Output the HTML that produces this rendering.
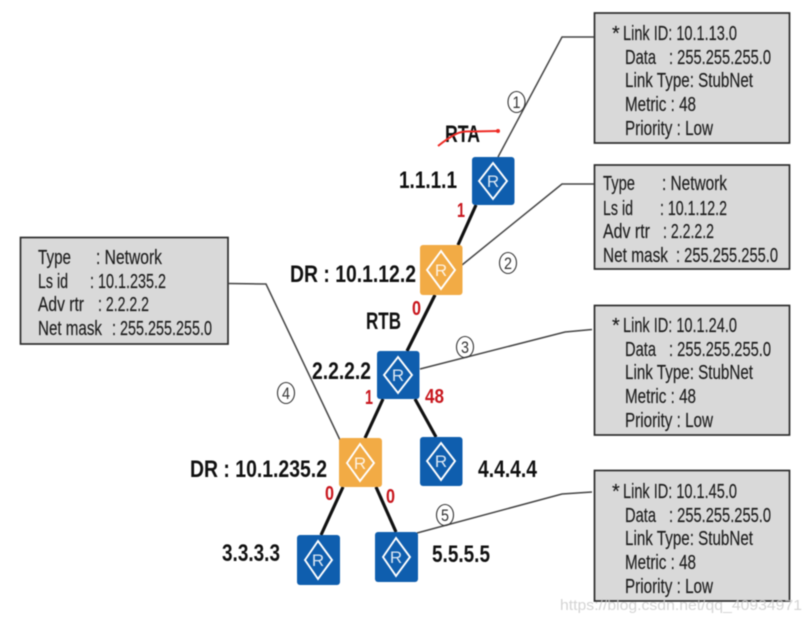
<!DOCTYPE html>
<html><head><meta charset="utf-8"><style>
html,body{margin:0;padding:0;background:#fff;width:810px;height:623px;overflow:hidden}
svg{display:block;filter:blur(.4px)}
text{font-family:"Liberation Sans",sans-serif}
.t text{font-size:20px;fill:#1c1c1c;stroke:#1c1c1c;stroke-width:.15}
.b text{font-size:24px;font-weight:bold;fill:#111}
.r text{font-size:20px;font-weight:bold;fill:#c8161d}
.box{fill:#d9d9d9;stroke:#2c2c2c;stroke-width:1.7}
.thin{fill:none;stroke:#444;stroke-width:1.5}
.thick{stroke:#111;stroke-width:3.2}
.c ellipse{fill:none;stroke:#333;stroke-width:1.1}
.c text{font-size:17px;fill:#333;text-anchor:middle}
.d{fill:none;stroke:#fff;stroke-width:1.9}
.l{font-size:17px;fill:#fff;fill-opacity:.85;text-anchor:middle}
</style></head><body>
<svg width="810" height="623" viewBox="0 0 810 623" xmlns="http://www.w3.org/2000/svg">
<rect width="810" height="623" fill="#fff"/>

<!-- boxes -->
<rect class="box" x="594.5" y="13" width="195" height="130"/>
<rect class="box" x="594.5" y="165" width="195" height="104"/>
<rect class="box" x="594.5" y="305.5" width="195" height="129.5"/>
<rect class="box" x="594.5" y="470.5" width="195" height="130.5"/>
<rect class="box" x="20.5" y="237.5" width="207.5" height="106.5"/>

<!-- thin connectors -->
<polyline class="thin" points="498,157 562,37 594,37"/>
<polyline class="thin" points="462,265 562,184 594,184"/>
<polyline class="thin" points="420,369 565,332 592,329.5"/>
<polyline class="thin" points="417,533 562,494 592,492"/>
<polyline class="thin" points="228,283.5 266,284 340,440"/>

<!-- thick links -->
<g class="thick">
<line x1="476" y1="205" x2="458" y2="245"/>
<line x1="435" y1="295" x2="407" y2="351"/>
<line x1="383" y1="399" x2="365" y2="438"/>
<line x1="343" y1="487" x2="321" y2="535"/>
<line x1="376" y1="487" x2="396" y2="532"/>
<line x1="415" y1="399" x2="436" y2="437"/>
</g>

<!-- routers -->
<g><rect x="472" y="157" width="42.5" height="48" rx="3" fill="#0f5eae"/><polygon class="d" points="493,163 507,181 493,199 479,181"/><text class="l" x="493" y="187">R</text></g>
<g><rect x="420" y="245" width="42.5" height="50" rx="3" fill="#f2ab45"/><polygon class="d" points="441,251 455,270 441,289 427,270"/><text class="l" x="441" y="276">R</text></g>
<g><rect x="377" y="351" width="42.5" height="48" rx="3" fill="#0f5eae"/><polygon class="d" points="398,357 412,375 398,393 384,375"/><text class="l" x="398" y="381">R</text></g>
<g><rect x="339" y="438" width="43" height="49" rx="3" fill="#f2ab45"/><polygon class="d" points="360,444 374,463 360,481 347,463"/><text class="l" x="360" y="469">R</text></g>
<g><rect x="420" y="437" width="42.5" height="49" rx="3" fill="#0f5eae"/><polygon class="d" points="441,443 455,461 441,480 427,461"/><text class="l" x="441" y="467">R</text></g>
<g><rect x="297" y="535" width="43" height="50" rx="3" fill="#0f5eae"/><polygon class="d" points="318,541 332,560 318,579 305,560"/><text class="l" x="318" y="566">R</text></g>
<g><rect x="375" y="532" width="43" height="50" rx="3" fill="#0f5eae"/><polygon class="d" points="396,538 410,557 396,576 383,557"/><text class="l" x="396" y="563">R</text></g>

<!-- box text -->
<g class="t">
<text x="612" y="40">*</text>
<text x="623" y="40" textLength="114" lengthAdjust="spacingAndGlyphs">Link ID: 10.1.13.0</text>
<text x="625" y="64" textLength="31" lengthAdjust="spacingAndGlyphs">Data</text>
<text x="669" y="64" textLength="102" lengthAdjust="spacingAndGlyphs">: 255.255.255.0</text>
<text x="625" y="87" textLength="128" lengthAdjust="spacingAndGlyphs">Link Type: StubNet</text>
<text x="625" y="111" textLength="71" lengthAdjust="spacingAndGlyphs">Metric : 48</text>
<text x="625" y="135" textLength="88" lengthAdjust="spacingAndGlyphs">Priority : Low</text>

<text x="603" y="190" textLength="32" lengthAdjust="spacingAndGlyphs">Type</text>
<text x="662" y="190" textLength="65" lengthAdjust="spacingAndGlyphs">: Network</text>
<text x="603" y="215" textLength="30" lengthAdjust="spacingAndGlyphs">Ls id</text>
<text x="660" y="215" textLength="67" lengthAdjust="spacingAndGlyphs">: 10.1.12.2</text>
<text x="603" y="238" textLength="47" lengthAdjust="spacingAndGlyphs">Adv rtr</text>
<text x="663" y="238" textLength="51" lengthAdjust="spacingAndGlyphs">: 2.2.2.2</text>
<text x="603" y="262" textLength="65" lengthAdjust="spacingAndGlyphs">Net mask</text>
<text x="676" y="262" textLength="102" lengthAdjust="spacingAndGlyphs">: 255.255.255.0</text>

<text x="612" y="332">*</text>
<text x="623" y="332" textLength="114" lengthAdjust="spacingAndGlyphs">Link ID: 10.1.24.0</text>
<text x="625" y="356" textLength="31" lengthAdjust="spacingAndGlyphs">Data</text>
<text x="669" y="356" textLength="102" lengthAdjust="spacingAndGlyphs">: 255.255.255.0</text>
<text x="625" y="379" textLength="128" lengthAdjust="spacingAndGlyphs">Link Type: StubNet</text>
<text x="625" y="403" textLength="71" lengthAdjust="spacingAndGlyphs">Metric : 48</text>
<text x="625" y="427" textLength="88" lengthAdjust="spacingAndGlyphs">Priority : Low</text>

<text x="612" y="498">*</text>
<text x="623" y="498" textLength="114" lengthAdjust="spacingAndGlyphs">Link ID: 10.1.45.0</text>
<text x="625" y="522" textLength="31" lengthAdjust="spacingAndGlyphs">Data</text>
<text x="669" y="522" textLength="102" lengthAdjust="spacingAndGlyphs">: 255.255.255.0</text>
<text x="625" y="545" textLength="128" lengthAdjust="spacingAndGlyphs">Link Type: StubNet</text>
<text x="625" y="569" textLength="71" lengthAdjust="spacingAndGlyphs">Metric : 48</text>
<text x="625" y="593" textLength="88" lengthAdjust="spacingAndGlyphs">Priority : Low</text>

<text x="38" y="264" textLength="33" lengthAdjust="spacingAndGlyphs">Type</text>
<text x="96" y="264" textLength="66" lengthAdjust="spacingAndGlyphs">: Network</text>
<text x="38" y="288" textLength="30" lengthAdjust="spacingAndGlyphs">Ls id</text>
<text x="90" y="288" textLength="76" lengthAdjust="spacingAndGlyphs">: 10.1.235.2</text>
<text x="38" y="311" textLength="46" lengthAdjust="spacingAndGlyphs">Adv rtr</text>
<text x="98" y="311" textLength="51" lengthAdjust="spacingAndGlyphs">: 2.2.2.2</text>
<text x="38" y="335" textLength="64" lengthAdjust="spacingAndGlyphs">Net mask</text>
<text x="112" y="335" textLength="100" lengthAdjust="spacingAndGlyphs">: 255.255.255.0</text>
</g>

<!-- bold labels -->
<g class="b">
<text x="445" y="142" textLength="35" lengthAdjust="spacingAndGlyphs">RTA</text>
<text x="399" y="188" textLength="58" lengthAdjust="spacingAndGlyphs">1.1.1.1</text>
<text x="290" y="282" textLength="126" lengthAdjust="spacingAndGlyphs">DR : 10.1.12.2</text>
<text x="366" y="329" textLength="35" lengthAdjust="spacingAndGlyphs">RTB</text>
<text x="312" y="379" textLength="59" lengthAdjust="spacingAndGlyphs">2.2.2.2</text>
<text x="190" y="477" textLength="137" lengthAdjust="spacingAndGlyphs">DR : 10.1.235.2</text>
<text x="222" y="561" textLength="58" lengthAdjust="spacingAndGlyphs">3.3.3.3</text>
<text x="478" y="477" textLength="59" lengthAdjust="spacingAndGlyphs">4.4.4.4</text>
<text x="432" y="562" textLength="58" lengthAdjust="spacingAndGlyphs">5.5.5.5</text>
</g>

<!-- metric labels -->
<g class="r">
<text x="457" y="217" textLength="8" lengthAdjust="spacingAndGlyphs">1</text>
<text x="412" y="315" textLength="9" lengthAdjust="spacingAndGlyphs">0</text>
<text x="365" y="404" textLength="8" lengthAdjust="spacingAndGlyphs">1</text>
<text x="425" y="403" textLength="19" lengthAdjust="spacingAndGlyphs">48</text>
<text x="325" y="500" textLength="9" lengthAdjust="spacingAndGlyphs">0</text>
<text x="386" y="503" textLength="9" lengthAdjust="spacingAndGlyphs">0</text>
</g>

<!-- circled numbers -->
<g class="c">
<ellipse cx="516.5" cy="102" rx="8.5" ry="10.5"/><text x="516.5" y="108" textLength="8" lengthAdjust="spacingAndGlyphs">1</text>
<ellipse cx="508" cy="263" rx="8.5" ry="10.5"/><text x="508" y="269" textLength="8" lengthAdjust="spacingAndGlyphs">2</text>
<ellipse cx="465" cy="347" rx="8.5" ry="10.5"/><text x="465" y="353" textLength="8" lengthAdjust="spacingAndGlyphs">3</text>
<ellipse cx="286" cy="393" rx="8.5" ry="10.5"/><text x="286" y="399" textLength="8" lengthAdjust="spacingAndGlyphs">4</text>
<ellipse cx="445" cy="515" rx="8.5" ry="10.5"/><text x="445" y="521" textLength="8" lengthAdjust="spacingAndGlyphs">5</text>
</g>

<!-- red strike -->
<path d="M438,146 Q448,138 456,134 Q462,131 472,131.5 L498,131" fill="none" stroke="#ee2a24" stroke-width="2"/>
<circle cx="498" cy="131" r="2" fill="#ee2a24"/>

<!-- watermark -->
<text x="560" y="610" font-size="15" fill="#c9c9c9" fill-opacity=".8" textLength="242" lengthAdjust="spacingAndGlyphs">https://blog.csdn.net/qq_40934971</text>
</svg>
</body></html>
